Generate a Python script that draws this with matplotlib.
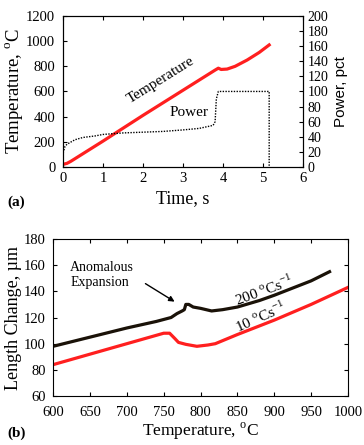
import matplotlib
matplotlib.use("Agg")
import matplotlib.pyplot as plt
import numpy as np

plt.rcParams['font.family'] = ['Liberation Serif', 'DejaVu Serif']
plt.rcParams['mathtext.fontset'] = 'custom'
plt.rcParams['mathtext.rm'] = 'Liberation Serif'

# (a) heating trace
time_T = [0.0, 0.1, 0.2, 0.4, 1.0, 2.0, 3.0, 3.5, 3.8, 3.88, 3.95, 4.1, 4.3, 4.6, 4.9, 5.15]
temp_T = [20, 28, 45, 85, 205, 410, 610, 710, 770, 785, 775, 778, 800, 850, 910, 970]

time_P = [0.0, 0.01, 0.05, 0.1, 0.2, 0.3, 0.5, 0.8, 1.0, 1.5, 2.0, 2.5, 3.0, 3.4, 3.75, 3.8, 3.83, 3.88, 4.5, 5.15, 5.15]
power_P = [0, 20, 27, 30, 33, 36, 39, 41, 43, 45, 46, 47, 49, 51, 55, 60, 90, 100, 100, 100, 0]

# (b) dilatometry
temp_200 = [600, 650, 700, 740, 760, 768, 775, 778, 780, 784, 790, 800, 815, 830, 850, 880, 900, 950, 975]
dl_200 = [98, 105, 112, 117, 120, 123, 125, 126, 130, 130, 128, 127, 125, 126, 128, 133, 137, 148, 155]

temp_10 = [600, 650, 700, 750, 758, 765, 770, 780, 795, 810, 820, 850, 900, 950, 1000]
dl_10 = [84, 92, 100, 108, 108, 104, 101, 99.5, 98, 99, 100, 107, 118, 130, 143]

fig = plt.figure(figsize=(3.64, 4.45), dpi=100)

# ---- panel (a)
ax1 = fig.add_axes([0.173, 0.625, 0.660, 0.339])
ax1.plot(time_T, temp_T, color='#ff1f1f', lw=2.3)
ax1.set_xlim(0, 6)
ax1.set_ylim(0, 1200)
ax1.set_xticks(range(0, 7))
ax1.set_yticks(range(0, 1201, 200))
ax1.tick_params(direction='in', top=True, labelsize=10.5, length=3)
ax1.tick_params(axis='y', pad=5.5)
ax1.set_xlabel('Time, s', fontsize=13, labelpad=4)
ax1.set_ylabel('Temperature, $^{\\mathrm{o}}$C', fontsize=13.5, labelpad=1)
ax1.text(2.45, 690, 'Temperature', rotation=32, ha='center', va='center', fontsize=11)
ax1.text(3.14, 430, 'Power', ha='center', va='center', fontsize=11)

ax2 = ax1.twinx()
ax2.plot(time_P, power_P, color='black', lw=1.0, ls=(0, (1, 1)))
ax2.set_ylim(0, 200)
ax2.set_yticks(range(0, 201, 20))
ax2.tick_params(direction='in', labelsize=10, length=3, pad=3)
ax2.set_ylabel('Power, pct', fontsize=11, family=['Liberation Sans'], labelpad=4)
fig.text(0.02, 0.538, '(a)', fontsize=11, fontweight='bold')

# ---- panel (b)
ax3 = fig.add_axes([0.146, 0.110, 0.810, 0.353])
ax3.plot(temp_200, dl_200, color='#1a1208', lw=2.3)
ax3.plot(temp_10, dl_10, color='#ff1f1f', lw=2.3)
ax3.set_xlim(600, 1000)
ax3.set_ylim(60, 180)
ax3.set_xticks(range(600, 1001, 50))
ax3.set_yticks(range(60, 181, 20))
ax3.tick_params(direction='in', top=True, right=True, labelsize=10.5, length=3)
ax3.tick_params(axis='x', pad=7)
ax3.tick_params(axis='y', pad=5.5)
ax3.set_xlabel('Temperature, $^{\\mathrm{o}}$C', fontsize=12.5, labelpad=1)
ax3.set_ylabel('Length Change, \u00b5m', fontsize=13, labelpad=1)
ax3.text(623, 152.5, 'Anomalous\nExpansion', ha='left', va='center', fontsize=10, linespacing=1.25)
ax3.annotate('', xy=(768, 131), xytext=(722, 147),
             arrowprops=dict(arrowstyle='-|>', color='black', lw=1.0, mutation_scale=8))
ax3.text(886, 140.5, '200 $^{\\mathrm{o}}$Cs$^{\\mathrm{-1}}$', rotation=20, ha='center', va='center', fontsize=11)
ax3.text(882, 120.5, '10 $^{\\mathrm{o}}$Cs$^{\\mathrm{-1}}$', rotation=24, ha='center', va='center', fontsize=11)
fig.text(0.02, 0.018, '(b)', fontsize=11, fontweight='bold')

fig.savefig('out.png', dpi=100)
